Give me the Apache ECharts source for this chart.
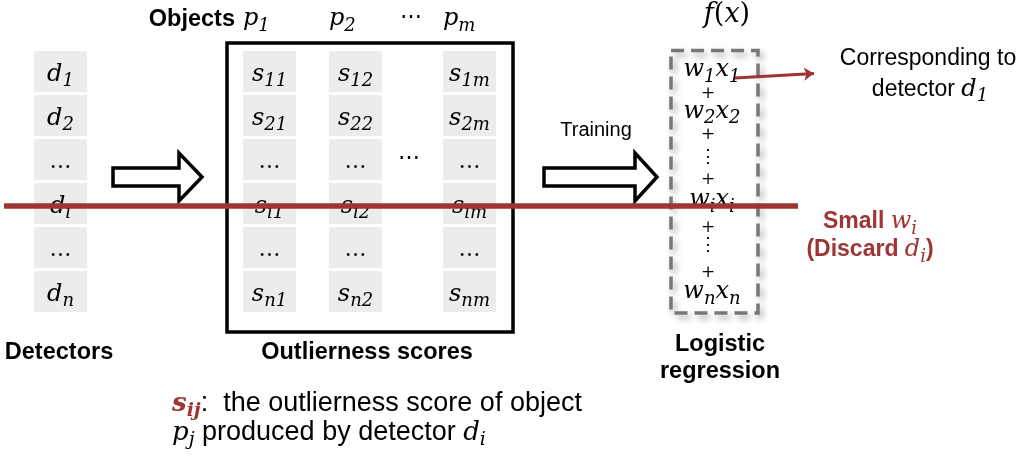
<!DOCTYPE html>
<html>
<head>
<meta charset="utf-8">
<script src="https://cdn.jsdelivr.net/npm/echarts@6/dist/echarts.min.js"></script>
<style>
  html, body { margin: 0; padding: 0; background: #fff; }
  #main { width: 1033px; height: 460px; }
</style>
</head>
<body>
<div id="main"></div>
<script>
// ---- figure content
var detectorSubs = ['1', '2', '…', 'i', '…', 'n'];   // d_1 ... d_n
var objectSubs = ['1', '2', 'm'];                    // p_1, p_2, p_m (score columns)
var sumSubs = ['1', '2', '⋮', 'i', '⋮', 'n'];        // w_k x_k terms of f(x)
var labels = {
  detectors: 'Detectors',
  objects: 'Objects',
  scores: 'Outlierness scores',
  training: 'Training',
  model1: 'Logistic',
  model2: 'regression',
  corr1: 'Corresponding to',
  corr2: 'detector ',
  small: 'Small ',
  discard: '(Discard ',
  note1: ':  the outlierness score of object',
  note2: ' produced by detector '
};

// ---- layout (pixel space of the 1033x460 canvas)
var rowTop = 51, rowStep = 44, rowH = 41, cellW = 53;
var detColLeft = 34;
var scoreColLeft = [243, 329, 443];
var sumX = 712;
var sumY = [70, 94, 111.5, 135, 157, 180, 200, 228, 245, 273, 292];
var RED = '#9e3434';
var SANS = '"Liberation Sans", Arial, Helvetica, sans-serif';
var SERIF = '"DejaVu Serif", serif';

var myChart = echarts.init(document.getElementById('main'));

function rowCenter(r) { return rowTop + r * rowStep + rowH / 2; }

// cells
var cellRects = [];
detectorSubs.forEach(function (s, r) {
  var y0 = rowTop + r * rowStep;
  cellRects.push([detColLeft, y0, detColLeft + cellW, y0 + rowH]);
  scoreColLeft.forEach(function (x0) {
    cellRects.push([x0, y0, x0 + cellW, y0 + rowH]);
  });
});

// frames: [x0, y0, x1, y1, dashed]
var frames = [
  [227, 43, 513, 332, 0],
  [671, 50.5, 758, 313, 1]
];

// hollow arrows: [xStart, xHeadBase, xTip, yCenter]
var arrows = [
  [113, 179, 202, 177],
  [544, 635, 657, 177]
];

function sym(base, sub, main, subst) {
  return '{' + (main || 'm') + '|' + base + '}' + (sub ? '{' + (subst || 's') + '|' + sub + '}' : '');
}

var textItems = [];
function addText(x, y, text, align) {
  textItems.push({ value: [x, y], text: text, label: { align: align || 'center' } });
}

// detector column
detectorSubs.forEach(function (s, r) {
  var t = s === '…' ? '{e|…}' : sym('d', s);
  addText(detColLeft + cellW / 2, rowCenter(r) + 3, t);
});
// score matrix
detectorSubs.forEach(function (s, r) {
  objectSubs.forEach(function (c, j) {
    var t = s === '…' ? '{e|…}' : sym('s', s + c);
    addText(scoreColLeft[j] + cellW / 2, rowCenter(r) + 3, t);
  });
});
// object header
objectSubs.forEach(function (c, j) {
  addText(scoreColLeft[j], 19, sym('p', c), 'left');
});
addText(411, 17, '{e|⋯}');
addText(409, 158, '{e|⋯}');
addText(235, 20, '{b|' + labels.objects + '}', 'right');

// f(x) terms
var seq = [];
sumSubs.forEach(function (s, k) {
  if (k > 0) seq.push('+');
  seq.push(s);
});
seq.forEach(function (s, k) {
  var t;
  if (s === '+') t = '{pl|+}';
  else if (s === '⋮') t = '{vd|⋮}';
  else t = sym('w', s) + sym('x', s);
  addText(s === '+' || s === '⋮' ? 708 : sumX, sumY[k], t);
});
addText(727, 15, '{fm|f}{fu|(}{fm|x}{fu|)}');

// captions
addText(59, 353, '{b|' + labels.detectors + '}');
addText(367, 353, '{b|' + labels.scores + '}');
addText(720, 345, '{b|' + labels.model1 + '}');
addText(720, 372, '{b|' + labels.model2 + '}');
addText(596, 130, '{tr|' + labels.training + '}');
addText(928, 59, '{r|' + labels.corr1 + '}');
addText(930, 89.5, '{r|' + labels.corr2 + '}' + sym('d', '1'));
addText(870, 222, '{br|' + labels.small + '}' + sym('w', 'i', 'mr', 'sr'));
addText(870, 250, '{br|' + labels.discard + '}' + sym('d', 'i', 'mr', 'sr') + '{br|)}');
addText(172, 404, sym('s', 'ij', 'nb', 'nbs') + '{n|' + labels.note1 + '}', 'left');
addText(172, 433, sym('p', 'j', 'nm', 'ns') + '{n|' + labels.note2 + '}' + sym('d', 'i', 'nm', 'ns'), 'left');

var rich = {
  m: { fontFamily: SERIF, fontStyle: 'italic', fontSize: 24, lineHeight: 32, verticalAlign: 'middle', color: '#000' },
  s: { fontFamily: SERIF, fontStyle: 'italic', fontSize: 18, lineHeight: 16, verticalAlign: 'bottom', color: '#000' },
  fm: { fontFamily: SERIF, fontStyle: 'italic', fontSize: 27, lineHeight: 32, verticalAlign: 'middle', color: '#000' },
  fu: { fontFamily: SERIF, fontSize: 27, lineHeight: 32, verticalAlign: 'middle', color: '#000' },
  e: { fontFamily: SERIF, fontSize: 22, lineHeight: 32, verticalAlign: 'middle', color: '#000' },
  pl: { fontFamily: SERIF, fontSize: 17, lineHeight: 20, verticalAlign: 'middle', color: '#000' },
  vd: { fontFamily: SERIF, fontSize: 18, lineHeight: 22, verticalAlign: 'middle', color: '#000' },
  b: { fontFamily: SANS, fontWeight: 'bold', fontSize: 23.5, lineHeight: 30, verticalAlign: 'middle', color: '#000' },
  r: { fontFamily: SANS, fontSize: 23, lineHeight: 30, verticalAlign: 'middle', color: '#000' },
  tr: { fontFamily: SANS, fontSize: 20, lineHeight: 28, verticalAlign: 'middle', color: '#000' },
  br: { fontFamily: SANS, fontWeight: 'bold', fontSize: 23, lineHeight: 30, verticalAlign: 'middle', color: RED },
  mr: { fontFamily: SERIF, fontStyle: 'italic', fontSize: 24, lineHeight: 32, verticalAlign: 'middle', color: RED },
  sr: { fontFamily: SERIF, fontStyle: 'italic', fontSize: 18, lineHeight: 16, verticalAlign: 'bottom', color: RED },
  n: { fontFamily: SANS, fontSize: 27, lineHeight: 34, verticalAlign: 'middle', color: '#000' },
  nm: { fontFamily: SERIF, fontStyle: 'italic', fontSize: 26, lineHeight: 34, verticalAlign: 'middle', color: '#000' },
  ns: { fontFamily: SERIF, fontStyle: 'italic', fontSize: 19, lineHeight: 17, verticalAlign: 'bottom', color: '#000' },
  nb: { fontFamily: SERIF, fontStyle: 'italic', fontWeight: 'bold', fontSize: 26, lineHeight: 34, verticalAlign: 'middle', color: RED },
  nbs: { fontFamily: SERIF, fontStyle: 'italic', fontWeight: 'bold', fontSize: 19, lineHeight: 17, verticalAlign: 'bottom', color: RED }
};

var option = {
  backgroundColor: '#fff',
  animation: false,
  grid: { left: 0, right: 0, top: 0, bottom: 0 },
  xAxis: { type: 'value', min: 0, max: 1033, show: false },
  yAxis: { type: 'value', min: 0, max: 460, inverse: true, show: false },
  series: [
    {
      // gray cells
      type: 'custom',
      z: 1,
      data: cellRects,
      renderItem: function (params, api) {
        var p0 = api.coord([api.value(0), api.value(1)]);
        var p1 = api.coord([api.value(2), api.value(3)]);
        return {
          type: 'rect',
          shape: { x: p0[0], y: p0[1], width: p1[0] - p0[0], height: p1[1] - p0[1] },
          style: { fill: '#ececec' }
        };
      }
    },
    {
      // matrix frame and dashed model box
      type: 'custom',
      z: 2,
      data: frames,
      renderItem: function (params, api) {
        var p0 = api.coord([api.value(0), api.value(1)]);
        var p1 = api.coord([api.value(2), api.value(3)]);
        var dashed = api.value(4) === 1;
        return {
          type: 'rect',
          shape: { x: p0[0], y: p0[1], width: p1[0] - p0[0], height: p1[1] - p0[1] },
          style: dashed ? {
            fill: null, stroke: '#777', lineWidth: 3.5, lineDash: [13, 7],
            shadowColor: 'rgba(0,0,0,0.35)', shadowBlur: 6, shadowOffsetX: 3, shadowOffsetY: 4
          } : { fill: null, stroke: '#000', lineWidth: 3.5 }
        };
      }
    },
    {
      // hollow block arrows
      type: 'custom',
      z: 2,
      data: arrows,
      renderItem: function (params, api) {
        var xs = api.value(0), xh = api.value(1), xt = api.value(2), yc = api.value(3);
        var pts = [
          [xs, yc - 9], [xh, yc - 9], [xh, yc - 24], [xt, yc],
          [xh, yc + 24], [xh, yc + 9], [xs, yc + 9]
        ].map(function (p) { return api.coord(p); });
        return {
          type: 'polygon',
          shape: { points: pts },
          style: { fill: '#fff', stroke: '#000', lineWidth: 3.5, lineJoin: 'miter' }
        };
      }
    },
    {
      // all text
      type: 'scatter',
      z: 5,
      symbolSize: 0,
      silent: true,
      itemStyle: { opacity: 1 },
      data: textItems,
      label: {
        show: true,
        position: 'inside',
        verticalAlign: 'middle',
        color: '#000',
        opacity: 1,
        formatter: function (p) { return p.data.text; },
        rich: rich
      }
    },
    {
      // discarded detector strike line
      type: 'lines',
      coordinateSystem: 'cartesian2d',
      z: 10,
      silent: true,
      symbol: ['none', 'none'],
      lineStyle: { color: RED, width: 5.5, opacity: 1 },
      data: [{ coords: [[4, 206], [798, 206]] }]
    },
    {
      // pointer to detector d_1
      type: 'lines',
      coordinateSystem: 'cartesian2d',
      z: 10,
      silent: true,
      symbol: ['none', 'arrow'],
      symbolSize: 10,
      lineStyle: { color: RED, width: 3, opacity: 1 },
      data: [{ coords: [[735, 78], [814, 73.5]] }]
    }
  ]
};

myChart.setOption(option);
</script>
</body>
</html>
